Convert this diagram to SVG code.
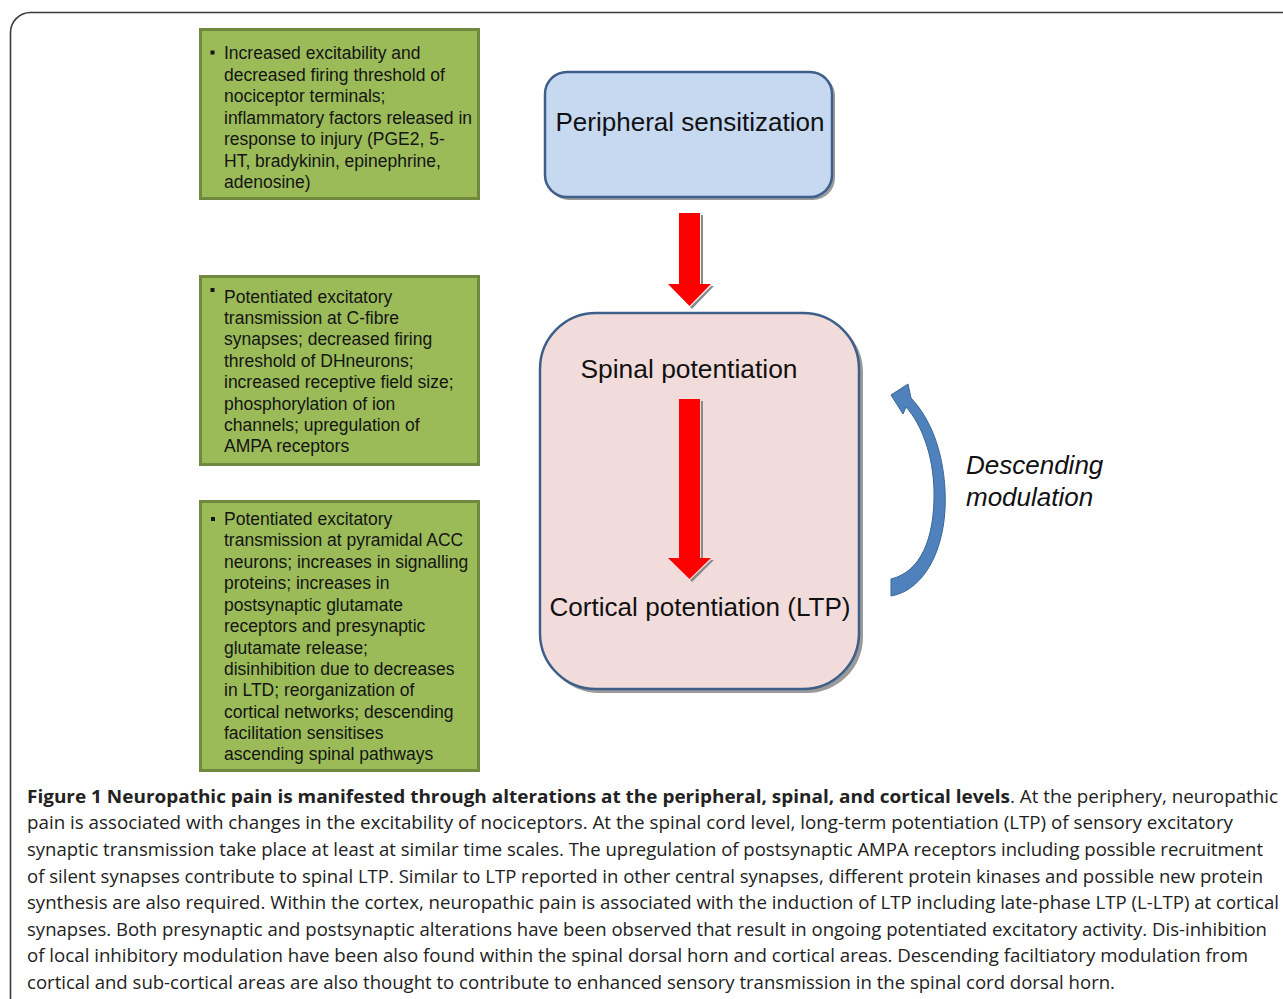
<svg xmlns="http://www.w3.org/2000/svg" width="1283" height="999" viewBox="0 0 1283 999">
<style>
.frame{fill:none;stroke:#3a3a3a;stroke-width:1.6}
.green{fill:#9BBB59;stroke:#71893F;stroke-width:3}
.gt{font-family:"Liberation Sans",Arial,sans-serif;font-size:17.5px;fill:#141414}
.bul{fill:#141414}
.big{font-family:"Liberation Sans",Arial,sans-serif;font-size:26px;fill:#111}
.it{font-family:"Liberation Sans",Arial,sans-serif;font-size:26px;font-style:italic;fill:#111}
.cap{font-family:"Open Sans","DejaVu Sans",sans-serif;font-size:18px;fill:#222}
.capb{font-family:"Open Sans","DejaVu Sans",sans-serif;font-size:18px;font-weight:bold;fill:#222}
.red{fill:#FF0000}
.shadow{fill:#8a8a8a}
</style>
<rect width="1283" height="999" fill="#fff"/>
<rect class="frame" x="10.5" y="12.5" width="1320" height="1100" rx="20"/>

<g id="box-peripheral-detail">
<rect class="green" x="200.5" y="29.5" width="278" height="169"/>
<rect class="bul" x="210.5" y="50.5" width="4" height="4"/>
<text class="gt" x="224" y="59">Increased excitability and</text>
<text class="gt" x="224" y="81">decreased firing threshold of</text>
<text class="gt" x="224" y="102">nociceptor terminals;</text>
<text class="gt" x="224" y="124">inflammatory factors released in</text>
<text class="gt" x="224" y="145">response to injury (PGE2, 5-</text>
<text class="gt" x="224" y="167">HT, bradykinin, epinephrine,</text>
<text class="gt" x="224" y="188">adenosine)</text>
</g>

<g id="box-spinal-detail">
<rect class="green" x="200.5" y="276.5" width="278" height="188"/>
<rect class="bul" x="210.5" y="288" width="4" height="4"/>
<text class="gt" x="224" y="303">Potentiated excitatory</text>
<text class="gt" x="224" y="324">transmission at C-fibre</text>
<text class="gt" x="224" y="345">synapses; decreased firing</text>
<text class="gt" x="224" y="367">threshold of DHneurons;</text>
<text class="gt" x="224" y="388">increased receptive field size;</text>
<text class="gt" x="224" y="410">phosphorylation of ion</text>
<text class="gt" x="224" y="431">channels; upregulation of</text>
<text class="gt" x="224" y="452">AMPA receptors</text>
</g>

<g id="box-cortical-detail">
<rect class="green" x="200.5" y="501.5" width="278" height="269"/>
<rect class="bul" x="211" y="517" width="4" height="4"/>
<text class="gt" x="224" y="525">Potentiated excitatory</text>
<text class="gt" x="224" y="546">transmission at pyramidal ACC</text>
<text class="gt" x="224" y="568">neurons; increases in signalling</text>
<text class="gt" x="224" y="589">proteins; increases in</text>
<text class="gt" x="224" y="611">postsynaptic glutamate</text>
<text class="gt" x="224" y="632">receptors and presynaptic</text>
<text class="gt" x="224" y="654">glutamate release;</text>
<text class="gt" x="224" y="675">disinhibition due to decreases</text>
<text class="gt" x="224" y="696">in LTD; reorganization of</text>
<text class="gt" x="224" y="718">cortical networks; descending</text>
<text class="gt" x="224" y="739">facilitation sensitises</text>
<text class="gt" x="224" y="760">ascending spinal pathways</text>
</g>

<g id="node-peripheral">
<rect x="547" y="74" width="288" height="126" rx="22" fill="#9a9a9a"/>
<rect x="545" y="72" width="287" height="125" rx="22" fill="#C6D9F1" stroke="#3E5F8A" stroke-width="2.5"/>
<text class="big" x="690" y="131" text-anchor="middle" textLength="269" lengthAdjust="spacingAndGlyphs">Peripheral sensitization</text>
</g>

<g id="node-central">
<rect x="543" y="316" width="320" height="377" rx="56" fill="#9a9a9a"/>
<rect x="540" y="313" width="319" height="376" rx="56" fill="#F2DCDB" stroke="#3E5F8A" stroke-width="2.5"/>
<text class="big" x="689" y="378" text-anchor="middle" textLength="217" lengthAdjust="spacingAndGlyphs">Spinal potentiation</text>
<text class="big" x="700" y="616" text-anchor="middle" textLength="301" lengthAdjust="spacingAndGlyphs">Cortical potentiation (LTP)</text>
</g>

<g id="connectors">
<path class="shadow" d="M701 215 L703 215 L703 286 L714 286 L692 309 L690 307 L711 286 L701 286 Z"/>
<path class="red" d="M679 213 L700 213 L700 284 L711 284 L689.5 306 L668 284 L679 284 Z"/>
<path class="shadow" d="M701 401 L703 401 L703 560 L714 560 L692 582 L690 580 L711 560 L701 560 Z"/>
<path class="red" d="M679 399 L700 399 L700 558 L711 558 L689.5 579 L668 558 L679 558 Z"/>
<path d="M891 596 C926 590 948 545 945 490 C943 450 930 418 911 398 L908 384 L891 395 L903 414 L906 407 C922 425 933 455 934 490 C935 540 920 572 891 579 Z" fill="#4F81BD" stroke="#3A6795" stroke-width="1"/>
<text class="it" x="966" y="474">Descending</text>
<text class="it" x="966" y="506">modulation</text>
</g>

<g id="caption">
<text class="capb" x="27" y="803" textLength="983" lengthAdjust="spacingAndGlyphs">Figure 1 Neuropathic pain is manifested through alterations at the peripheral, spinal, and cortical levels</text>
<text class="cap" x="1010" y="803" textLength="268" lengthAdjust="spacingAndGlyphs">. At the periphery, neuropathic</text>
<text class="cap" x="27" y="829" textLength="1206" lengthAdjust="spacingAndGlyphs">pain is associated with changes in the excitability of nociceptors. At the spinal cord level, long-term potentiation (LTP) of sensory excitatory</text>
<text class="cap" x="27" y="856" textLength="1236" lengthAdjust="spacingAndGlyphs">synaptic transmission take place at least at similar time scales. The upregulation of postsynaptic AMPA receptors including possible recruitment</text>
<text class="cap" x="27" y="883" textLength="1236" lengthAdjust="spacingAndGlyphs">of silent synapses contribute to spinal LTP. Similar to LTP reported in other central synapses, different protein kinases and possible new protein</text>
<text class="cap" x="27" y="909" textLength="1252" lengthAdjust="spacingAndGlyphs">synthesis are also required. Within the cortex, neuropathic pain is associated with the induction of LTP including late-phase LTP (L-LTP) at cortical</text>
<text class="cap" x="27" y="936" textLength="1240" lengthAdjust="spacingAndGlyphs">synapses. Both presynaptic and postsynaptic alterations have been observed that result in ongoing potentiated excitatory activity. Dis-inhibition</text>
<text class="cap" x="27" y="962" textLength="1221" lengthAdjust="spacingAndGlyphs">of local inhibitory modulation have been also found within the spinal dorsal horn and cortical areas. Descending faciltiatory modulation from</text>
<text class="cap" x="27" y="989" textLength="1088" lengthAdjust="spacingAndGlyphs">cortical and sub-cortical areas are also thought to contribute to enhanced sensory transmission in the spinal cord dorsal horn.</text>
</g>
</svg>
